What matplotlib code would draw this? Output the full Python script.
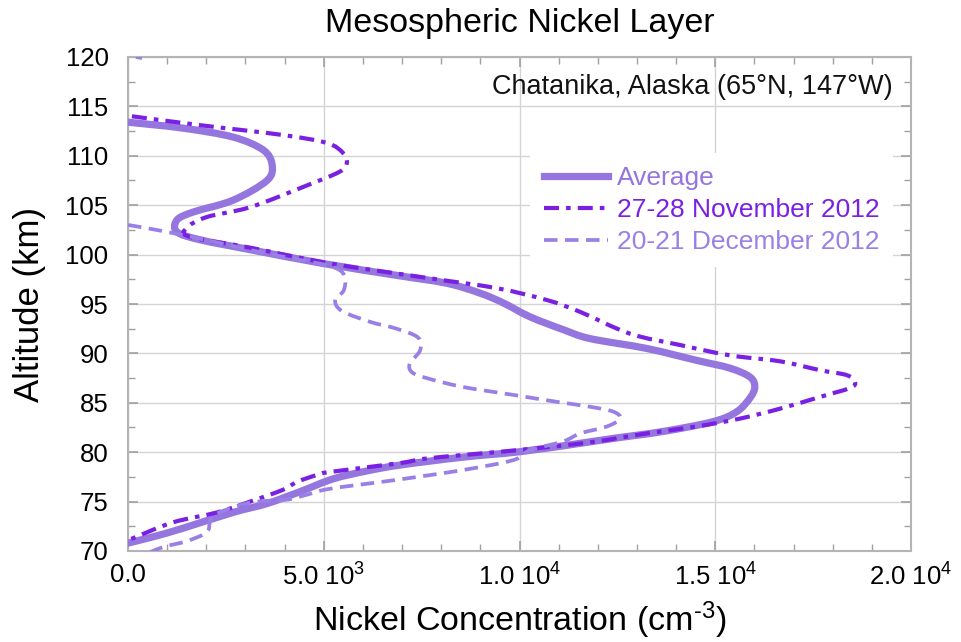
import numpy as np
import matplotlib
matplotlib.use("Agg")
import matplotlib.pyplot as plt
from matplotlib.path import Path
from matplotlib.patches import PathPatch
from matplotlib.lines import Line2D
from matplotlib.ticker import MultipleLocator, FixedLocator, FixedFormatter

plt.rcParams['font.family'] = ['Liberation Sans', 'DejaVu Sans']
plt.rcParams['mathtext.fontset'] = 'custom'
plt.rcParams['mathtext.rm'] = 'Liberation Sans'
plt.rcParams['mathtext.it'] = 'Liberation Sans'

# Nickel density profiles (concentration in cm^-3, altitude in km)
avg_conc = [0, 1400, 2680, 3450, 3680, 3550, 2680, 1660, 1250, 1250, 1840, 3120,
            4980, 6860, 8140, 8990, 9590, 10270, 11120, 11800, 13250, 14520, 15380,
            15890, 16010, 15890, 15550, 14950, 13670, 12400, 11550, 10010, 8560,
            6950, 6100, 5240, 4390, 3550, 2680, 1400, 700, 0]
avg_alt = [113.4, 112.8, 111.9, 110.6, 109.1, 107.5, 105.5, 104.3, 103.5, 102.3, 101.5, 100.5,
           99.1, 97.9, 97.1, 96.1, 95.1, 93.7, 92.4, 91.5, 90.5, 89.3, 88.5,
           87.6, 86.6, 85.5, 84.1, 83.1, 82.1, 81.4, 80.9, 80.05, 79.5,
           78.7, 78.1, 77.3, 76.0, 74.8, 73.9, 72.3, 71.5, 70.8]

nov_conc = [100, 1840, 3960, 5080, 5490, 5590, 5410, 4570, 3120, 2010, 1500, 1580,
            3120, 5160, 7710, 9420, 10700, 11550, 12820, 14100, 15380, 16650, 17680,
            18360, 18570, 18440, 17680, 16650, 15630, 14520, 13250, 11800, 9930, 7710,
            6950, 5160, 4830, 4320, 3960, 3120, 2270, 1150, 130, 0]
nov_alt = [114.0, 113.1, 112.1, 111.3, 110.3, 109.3, 108.4, 107.0, 104.8, 103.8, 102.7, 101.8,
           100.7, 99.1, 97.6, 96.6, 95.4, 94.2, 92.0, 90.85, 89.8, 89.2, 88.3,
           87.8, 87.1, 86.5, 85.6, 84.4, 83.4, 82.6, 81.9, 81.0, 80.2, 79.4,
           78.9, 78.0, 77.7, 77.0, 76.2, 75.0, 73.9, 72.9, 71.3, 71.1]

dec_conc = [200, 360, np.nan,
            0, 1000, 2200, 3200, 4200, 5100, 5450, 5550, 5500, 5290, 5460, 6180,
            6860, 7410, 7460, 7200, 7250, 7630, 8560, 9840, 10950, 11800, 12400,
            12570, 12230, 11550, 11120, 10270, 9840, 8560, 6860, 5160, 4570, 4060,
            3120, 2270, 2100, 2010, 1500, 900, 400]
dec_alt = [120.0, 119.9, np.nan,
           103.0, 102.3, 101.3, 100.4, 99.6, 98.9, 98.3, 97.4, 96.3, 95.4, 94.3, 93.2,
           92.5, 91.6, 90.3, 89.0, 88.1, 87.5, 86.6, 85.8, 85.1, 84.6, 84.1,
           83.4, 82.6, 81.9, 81.1, 80.2, 79.2, 78.2, 77.2, 76.3, 75.7, 75.2,
           74.9, 73.8, 73.1, 71.9, 71.0, 70.4, 69.6]

labels = ['Average', '27-28 November 2012', '20-21 December 2012']
colors = ['#9575de', '#7a20e2', '#9a80e6']

xtick_vals = [0, 5000, 10000, 15000, 20000]
xtick_text = ['0.0', '5.0 10$^{3}$', '1.0 10$^{4}$', '1.5 10$^{4}$', '2.0 10$^{4}$']


def smooth_path(xs, ys):
    """Smooth curve through every point (Catmull-Rom drawn as cubic Bezier);
    NaN entries split the profile into separate pieces."""
    xs = np.asarray(xs, float)
    ys = np.asarray(ys, float)
    verts, codes = [], []
    good = ~(np.isnan(xs) | np.isnan(ys))
    idx = np.flatnonzero(good)
    pieces = np.split(idx, np.flatnonzero(np.diff(idx) > 1) + 1)
    for piece in pieces:
        p = np.column_stack([xs[piece], ys[piece]])
        verts.append(p[0])
        codes.append(Path.MOVETO)
        if len(p) < 3:
            for q in p[1:]:
                verts.append(q)
                codes.append(Path.LINETO)
            continue
        ext = np.vstack([p[0], p, p[-1]])
        for i in range(1, len(ext) - 2):
            p0, p1, p2, p3 = ext[i - 1], ext[i], ext[i + 1], ext[i + 2]
            verts += [p1 + (p2 - p0) / 6.0, p2 - (p3 - p1) / 6.0, p2]
            codes += [Path.CURVE4] * 3
    return Path(np.array(verts), codes)


fig = plt.figure(figsize=(9.61, 6.42), dpi=100)
ax = fig.add_axes([128 / 961, 1 - 551 / 642, 783 / 961, 494 / 642])

styles = [
    dict(lw=5.2, ls='-', capstyle='round', joinstyle='round', z=3),
    dict(lw=3.0, ls=(0, (3.6, 1.7, 1.1, 1.7)), capstyle='butt', joinstyle='round', z=4),
    dict(lw=2.7, ls=(0, (3.6, 2.0)), capstyle='butt', joinstyle='round', z=4),
]
handles = []
for (xs, ys), col, st in zip([(avg_conc, avg_alt), (nov_conc, nov_alt), (dec_conc, dec_alt)],
                             colors, styles):
    patch = PathPatch(smooth_path(xs, ys), fill=False, edgecolor=col, lw=st['lw'],
                      linestyle=st['ls'], capstyle=st['capstyle'],
                      joinstyle=st['joinstyle'], zorder=st['z'])
    ax.add_patch(patch)
    handles.append(Line2D([], [], color=col, lw=st['lw'], linestyle=st['ls']))

ax.set_xlim(0, 20000)
ax.set_ylim(70, 120)
ax.xaxis.set_major_locator(FixedLocator(xtick_vals))
ax.xaxis.set_major_formatter(FixedFormatter(xtick_text))
ax.xaxis.set_minor_locator(MultipleLocator(1000))
ax.yaxis.set_major_locator(MultipleLocator(5))
ax.yaxis.set_minor_locator(MultipleLocator(2.5))

ax.grid(True, which='major', color='#d4d4d4', lw=1.0, zorder=0)
for s in ax.spines.values():
    s.set_color('#b4b4b4')
    s.set_linewidth(1.5)
ax.tick_params(which='both', direction='in', top=True, right=True, color='#a0a0a0')
ax.tick_params(which='major', length=7, width=1.2)
ax.tick_params(which='minor', length=5, width=1.0)
ax.tick_params(axis='x', which='major', labelsize=18.5, pad=9)
ax.tick_params(axis='y', which='major', labelsize=18.5, pad=14)

ax.set_xlabel('Nickel Concentration (cm$^{\u2010 3}$)', fontsize=24.5, labelpad=6)
ax.set_ylabel('Altitude (km)', fontsize=25, labelpad=14)
ax.set_title('Mesospheric Nickel Layer', fontsize=24.5, pad=18)

ax.text(0.977, 0.939, 'Chatanika, Alaska (65°N, 147°W)', transform=ax.transAxes,
        ha='right', va='center', fontsize=19.5, color='#111111')

leg = ax.legend(handles, labels, loc='upper left',
                bbox_to_anchor=(0.497, 0.832), fontsize=19, frameon=True,
                facecolor='white', edgecolor='none', framealpha=1.0,
                handlelength=2.45, handletextpad=0.35, labelspacing=0.3,
                borderpad=0.5, fancybox=False)
for txt, c in zip(leg.get_texts(), colors):
    txt.set_color(c)
leg.set_zorder(2)

fig.savefig('out.png', dpi=100)
